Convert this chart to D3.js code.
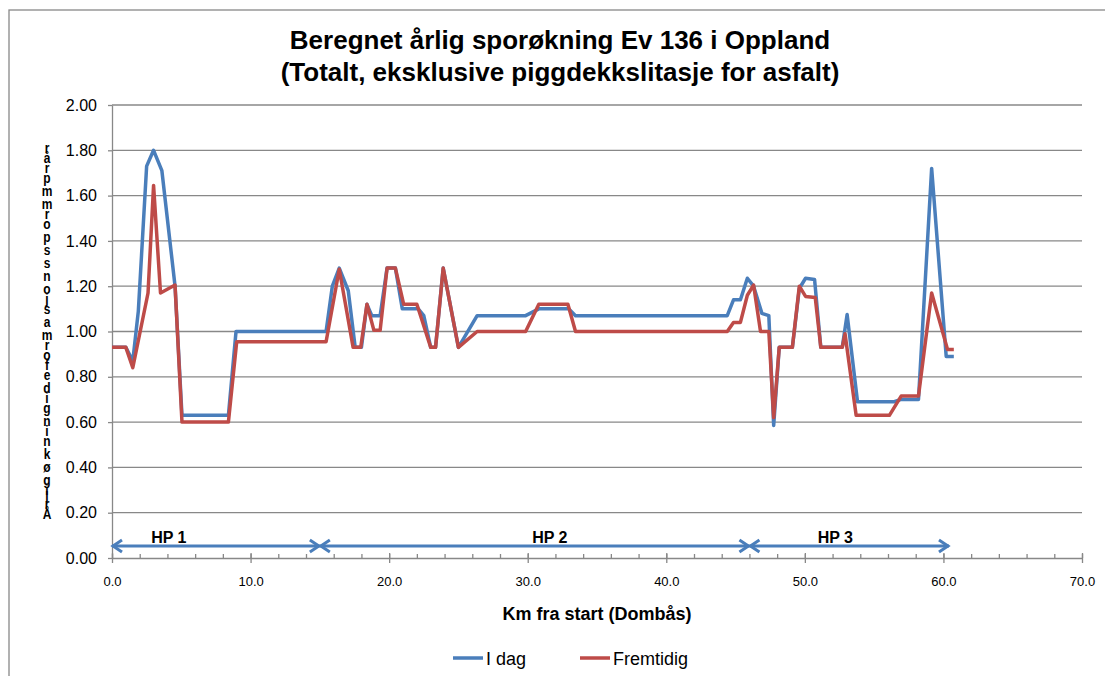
<!DOCTYPE html>
<html>
<head>
<meta charset="utf-8">
<script src="https://cdn.jsdelivr.net/npm/d3@7"></script>
<style>
  body { margin: 0; background: #fff; }
  svg { display: block; font-family: "Liberation Sans", Arial, sans-serif; }
</style>
</head>
<body>
<div class="plots"></div>
<script>
// series: km from start and yearly rut growth (mm/yr)
var kmIdag = [0, 1.0, 1.5, 1.9, 2.5, 3.0, 3.6, 4.55, 5.05, 8.4, 8.95, 15.45, 15.9, 16.4, 17.05, 17.55, 18.0, 18.4, 18.75, 19.35,
  19.85, 20.45, 20.95, 22.1, 22.5, 23.0, 23.35, 23.9, 25.0, 26.35, 29.85, 30.8, 32.95, 33.45, 44.4, 44.85, 45.35, 45.85,
  46.3, 46.9, 47.4, 47.75, 48.15, 49.1, 49.6, 50.05, 50.7, 51.15, 52.7, 53.05, 53.8, 56.45, 56.95, 58.2, 59.15, 60.2, 60.75];
var valIdag = [0.93, 0.93, 0.87, 1.09, 1.73, 1.80, 1.71, 1.20, 0.63, 0.63, 1.00, 1.00, 1.20, 1.28, 1.18, 0.93, 0.93, 1.12, 1.07, 1.07,
  1.28, 1.28, 1.10, 1.10, 1.07, 0.93, 0.93, 1.28, 0.93, 1.07, 1.07, 1.10, 1.10, 1.07, 1.07, 1.14, 1.14, 1.235,
  1.20, 1.08, 1.07, 0.585, 0.93, 0.93, 1.19, 1.235, 1.23, 0.93, 0.93, 1.075, 0.69, 0.69, 0.70, 0.70, 1.72, 0.89, 0.89];

var kmFremtidig = [0, 1.0, 1.5, 2.6, 3.0, 3.5, 4.55, 5.05, 8.4, 9.0, 15.45, 16.4, 17.4, 17.95, 18.4, 18.9, 19.35, 19.85, 20.45,
  21.05, 22.0, 23.0, 23.35, 23.9, 25.0, 26.35, 29.85, 30.8, 32.9, 33.45, 44.4, 44.85, 45.35, 45.85, 46.3, 46.8, 47.4,
  47.75, 48.15, 49.1, 49.6, 50.05, 50.75, 51.15, 52.7, 52.9, 53.7, 56.1, 56.95, 58.2, 59.15, 60.3, 60.75];
var valFremtidig = [0.93, 0.93, 0.84, 1.17, 1.645, 1.17, 1.205, 0.60, 0.60, 0.955, 0.955, 1.275, 0.93, 0.93, 1.12, 1.005, 1.005, 1.28, 1.28,
  1.12, 1.12, 0.93, 0.93, 1.28, 0.93, 1.00, 1.00, 1.12, 1.12, 1.00, 1.00, 1.04, 1.04, 1.16, 1.205, 1.00, 1.00,
  0.62, 0.93, 0.93, 1.20, 1.155, 1.15, 0.93, 0.93, 0.99, 0.63, 0.63, 0.715, 0.715, 1.17, 0.92, 0.92];

var seriesNames = ["I dag", "Fremtidig"];
var seriesColors = ["#4a7ebb", "#be4b48"];

// road sections (HP) drawn as arrows near the x axis
var hpNames = ["HP 1", "HP 2", "HP 3"];
var hpStart = [0, 15.0, 46.0];
var hpEnd = [15.0, 46.0, 60.4];
var hpLabelKm = [4.1, 31.6, 52.2];
var hpLevel = 0.053;

var xTicks = [0, 10, 20, 30, 40, 50, 60, 70];
var yTicks = [0, 0.2, 0.4, 0.6, 0.8, 1.0, 1.2, 1.4, 1.6, 1.8, 2.0];

var titleLines = ["Beregnet årlig sporøkning Ev 136 i Oppland", "(Totalt, eksklusive piggdekkslitasje for asfalt)"];
var xTitle = "Km fra start (Dombås)";
var yTitle = "Årlig økning i deformasjonsspor mm pr år";

var W = 1105, H = 676;
var margin = {top: 105, left: 112, right: 1105 - 1082, bottom: 676 - 558};

var svg = d3.select(".plots").append("svg")
    .attr("width", W)
    .attr("height", H);

// outer chart border
svg.append("rect")
  .attr("x", 9).attr("y", 10)
  .attr("width", W).attr("height", H)
  .attr("fill", "none")
  .attr("stroke", "#888")
  .attr("stroke-width", 1.3);

var x = d3.scaleLinear()
    .domain([0, 70])
    .range([margin.left, W - margin.right]);

var y = d3.scaleLinear()
    .domain([0, 2])
    .range([H - margin.bottom, margin.top]);

// gridlines
svg.append("g")
  .selectAll("line")
  .data(yTicks.filter(function(d) { return d > 0; }))
  .join("line")
    .attr("x1", x(0)).attr("x2", x(70))
    .attr("y1", function(d) { return y(d); })
    .attr("y2", function(d) { return y(d); })
    .attr("stroke", "#888")
    .attr("stroke-width", 1.3);

// y axis
var yAxis = svg.append("g")
    .attr("transform", "translate(" + x(0) + ",0)")
    .call(d3.axisLeft(y).tickValues(yTicks).tickFormat(d3.format(".2f")).tickSize(4).tickSizeOuter(0).tickPadding(11));
yAxis.select(".domain").attr("stroke", "#888").attr("stroke-width", 1.3);
yAxis.selectAll(".tick line").attr("stroke", "#888").attr("stroke-width", 1.3);
yAxis.selectAll("text")
    .attr("fill", "#000")
    .style("font-size", "16px")
    .style("font-family", "Liberation Sans, Arial, sans-serif");

// x axis minor ticks (every 2 km, pointing up)
var xMinor = svg.append("g")
    .attr("transform", "translate(0," + y(0) + ")")
    .call(d3.axisBottom(x).tickValues(d3.range(0, 71, 2)).tickFormat("").tickSize(-4).tickSizeOuter(0));
xMinor.select(".domain").remove();
xMinor.selectAll(".tick line").attr("stroke", "#888").attr("stroke-width", 1.3);

// x axis
var xAxis = svg.append("g")
    .attr("transform", "translate(0," + y(0) + ")")
    .call(d3.axisBottom(x).tickValues(xTicks).tickFormat(d3.format(".1f")).tickSize(5).tickSizeOuter(0).tickPadding(14));
xAxis.select(".domain").attr("stroke", "#888").attr("stroke-width", 1.3);
xAxis.selectAll(".tick line").attr("y1", -5).attr("stroke", "#888").attr("stroke-width", 1.3);
xAxis.selectAll("text")
    .attr("fill", "#000")
    .style("font-size", "13px")
    .style("font-family", "Liberation Sans, Arial, sans-serif");

// series lines
var line = d3.line()
    .x(function(d) { return x(d[0]); })
    .y(function(d) { return y(d[1]); });

var series = [d3.zip(kmIdag, valIdag), d3.zip(kmFremtidig, valFremtidig)];

series.forEach(function(s, i) {
  svg.append("path")
      .datum(s)
      .attr("fill", "none")
      .attr("stroke", seriesColors[i])
      .attr("stroke-linejoin", "round")
      .attr("stroke-linecap", "butt")
      .attr("stroke-width", 3.5)
      .attr("d", line);
});

// HP arrows
var hp = svg.append("g");
hpNames.forEach(function(name, i) {
  var x0 = x(hpStart[i]), x1 = x(hpEnd[i]), yy = y(hpLevel);
  hp.append("line")
    .attr("x1", x0).attr("x2", x1)
    .attr("y1", yy).attr("y2", yy)
    .attr("stroke", seriesColors[0])
    .attr("stroke-width", 3);
  hp.append("path")
    .attr("d", "M" + (x0 + 10) + "," + (yy - 6) + "L" + (x0 + 1) + "," + yy + "L" + (x0 + 10) + "," + (yy + 6))
    .attr("fill", "none").attr("stroke", seriesColors[0]).attr("stroke-width", 3);
  hp.append("path")
    .attr("d", "M" + (x1 - 10) + "," + (yy - 6) + "L" + (x1 - 1) + "," + yy + "L" + (x1 - 10) + "," + (yy + 6))
    .attr("fill", "none").attr("stroke", seriesColors[0]).attr("stroke-width", 3);
  hp.append("text")
    .attr("x", x(hpLabelKm[i]))
    .attr("y", yy - 3)
    .attr("text-anchor", "middle")
    .style("font-size", "16px")
    .style("font-weight", "bold")
    .text(name);
});

// title
svg.append("g").selectAll("text")
  .data(titleLines)
  .join("text")
    .attr("x", 560)
    .attr("y", function(d, i) { return 49 + i * 32; })
    .attr("text-anchor", "middle")
    .style("font-size", "26px")
    .style("font-weight", "bold")
    .text(function(d) { return d; });

// x axis title
svg.append("text")
  .attr("x", (x(0) + x(70)) / 2)
  .attr("y", 620)
  .attr("text-anchor", "middle")
  .style("font-size", "18px")
  .style("font-weight", "bold")
  .text(xTitle);

// y axis title, stacked letters bottom-up (one text element, tspans per letter)
var chars = yTitle.replace(/ /g, "").split("");
var narrow = "ilrjft";
var yl = svg.append("g").attr("transform", "translate(47,0) scale(0.8,1)")
  .append("text")
    .attr("text-anchor", "middle")
    .style("font-size", "15px")
    .style("font-weight", "bold");
var cy = 519;
chars.forEach(function(c, i) {
  yl.append("tspan")
    .attr("x", 0)
    .attr("y", cy)
    .text(c);
  var w0 = narrow.indexOf(c) >= 0 ? 7 : 13;
  var next = chars[i + 1];
  if (next) {
    var w1 = narrow.indexOf(next) >= 0 ? 7 : 13;
    cy -= (w0 + w1) / 2;
  }
});

// legend
var legend = svg.append("g");
var legX = [453, 580];
seriesNames.forEach(function(name, i) {
  legend.append("line")
    .attr("x1", legX[i]).attr("x2", legX[i] + 30)
    .attr("y1", 658).attr("y2", 658)
    .attr("stroke", seriesColors[i])
    .attr("stroke-width", 3.5);
  legend.append("text")
    .attr("x", legX[i] + 33)
    .attr("y", 665)
    .style("font-size", "18px")
    .text(name);
});
</script>
</body>
</html>
